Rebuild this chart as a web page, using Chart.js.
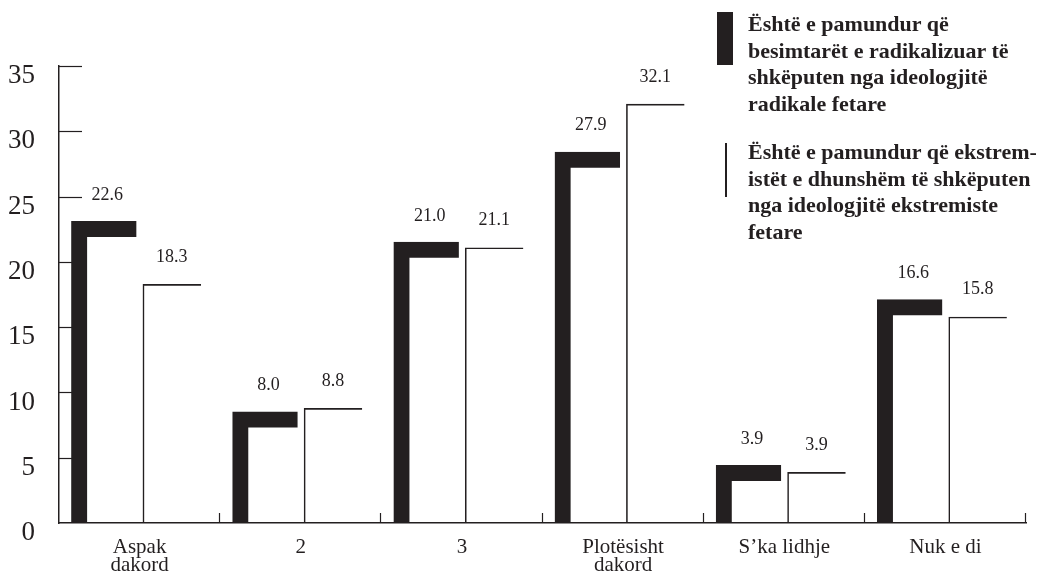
<!DOCTYPE html>
<html>
<head>
<meta charset="utf-8">
<script src="https://cdn.jsdelivr.net/npm/chart.js@4"></script>
<style>
    body { margin: 0; background: #fff; }
    #wrap { position: relative; width: 1041px; height: 573px; }
    .legendText {
        position: absolute;
        font-family: "Liberation Serif", serif;
        font-weight: bold;
        font-size: 22px;
        line-height: 26.7px;
        color: #231f20;
        white-space: nowrap;
    }
    .legendMark { position: absolute; background: #231f20; }
</style>
</head>
<body>
<div id="wrap">
    <canvas id="barChart" width="1041" height="573"></canvas>
    <div class="legendMark" style="left:717px; top:12px; width:16px; height:53px;"></div>
    <div class="legendText" style="left:748px; top:11px;">Është e pamundur që<br>besimtarët e radikalizuar të<br>shkëputen nga ideologjitë<br>radikale fetare</div>
    <div class="legendMark" style="left:725px; top:143px; width:1.5px; height:54px;"></div>
    <div class="legendText" style="left:748px; top:139px;">Është e pamundur që ekstrem-<br>istët e dhunshëm të shkëputen<br>nga ideologjitë ekstremiste<br>fetare</div>
</div>
<script>
const categories = [['Aspak', 'dakord'], '2', '3', ['Plotësisht', 'dakord'], 'S’ka lidhje', 'Nuk e di'];
const radikalizuar = [22.6, 8.0, 21.0, 27.9, 3.9, 16.6];
const ekstremistet = [18.3, 8.8, 21.1, 32.1, 3.9, 15.8];
const yMin = 0;
const yMax = 35;
const yStep = 5;

const ink = '#231f20';
Chart.defaults.font.family = '"Liberation Serif", serif';
Chart.defaults.color = ink;

// short tick marks drawn inside the plot area (y ticks and x category boundaries)
const innerTicks = {
    id: 'innerTicks',
    beforeDatasetsDraw(chart) {
        const ctx = chart.ctx;
        const area = chart.chartArea;
        const ys = chart.scales.y;
        const xs = chart.scales.x;
        ctx.save();
        ctx.strokeStyle = ink;
        ctx.lineWidth = 1.2;
        ys.ticks.forEach(t => {
            if (t.value === yMin) return;
            const py = Math.round(ys.getPixelForValue(t.value)) + 0.5;
            ctx.beginPath();
            ctx.moveTo(area.left, py);
            ctx.lineTo(area.left + 23, py);
            ctx.stroke();
        });
        const half = (xs.getPixelForValue(1) - xs.getPixelForValue(0)) / 2;
        categories.forEach((c, i) => {
            const px = Math.round(xs.getPixelForValue(i) + half) - 0.5;
            ctx.beginPath();
            ctx.moveTo(px, area.bottom);
            ctx.lineTo(px, area.bottom - 10);
            ctx.stroke();
        });
        ctx.restore();
    }
};

// value labels above every bar
const valueLabels = {
    id: 'valueLabels',
    afterDatasetsDraw(chart) {
        const ctx = chart.ctx;
        ctx.save();
        ctx.font = '18px "Liberation Serif", serif';
        ctx.fillStyle = ink;
        ctx.textAlign = 'center';
        ctx.textBaseline = 'middle';
        chart.data.datasets.forEach((ds, di) => {
            const offset = di === 0 ? 33 : 27;
            chart.getDatasetMeta(di).data.forEach((bar, i) => {
                ctx.fillText(ds.data[i].toFixed(1), bar.x, bar.y - offset);
            });
        });
        ctx.restore();
    }
};

new Chart(document.getElementById('barChart'), {
    type: 'bar',
    data: {
        labels: categories,
        datasets: [
            {
                label: 'Është e pamundur që besimtarët e radikalizuar të shkëputen nga ideologjitë radikale fetare',
                data: radikalizuar,
                backgroundColor: 'rgba(0,0,0,0)',
                borderColor: ink,
                borderWidth: { top: 2, left: 2, right: 0, bottom: 0 },
                inflateAmount: 7, // thick L-shaped outline centred on the value line
                categoryPercentage: 0.80,
                barPercentage: 0.907
            },
            {
                label: 'Është e pamundur që ekstremistët e dhunshëm të shkëputen nga ideologjitë ekstremiste fetare',
                data: ekstremistet,
                backgroundColor: 'rgba(0,0,0,0)',
                borderColor: ink,
                borderWidth: { top: 1.6, left: 1.6, right: 0, bottom: 0 },
                inflateAmount: 0,
                categoryPercentage: 0.80,
                barPercentage: 0.907
            }
        ]
    },
    options: {
        responsive: false,
        maintainAspectRatio: false,
        animation: false,
        layout: {
            padding: { top: 66, right: 15, left: 0, bottom: 0 }
        },
        scales: {
            x: {
                grid: { display: false },
                border: { display: true, color: ink, width: 1.5 },
                ticks: {
                    padding: 8,
                    maxRotation: 0,
                    autoSkip: false,
                    font: { size: 21, lineHeight: 0.84 }
                },
                afterFit(scale) { scale.height = 50; }
            },
            y: {
                min: yMin,
                max: yMax,
                grid: { display: false },
                border: { display: true, color: ink, width: 1.5 },
                ticks: {
                    stepSize: yStep,
                    padding: 16,
                    labelOffset: 10,
                    font: { size: 27 }
                },
                afterFit(scale) { scale.width = 59; }
            }
        },
        plugins: {
            legend: { display: false },
            tooltip: { enabled: false }
        }
    },
    plugins: [innerTicks, valueLabels]
});
</script>
</body>
</html>
